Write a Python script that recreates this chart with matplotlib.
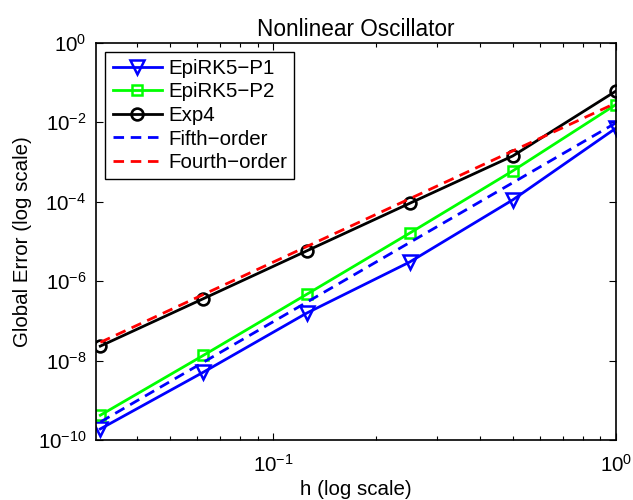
import numpy as np
import matplotlib
matplotlib.use("Agg")
import matplotlib.pyplot as plt
from matplotlib.ticker import LogLocator, FixedLocator, NullFormatter

plt.rcParams['font.family'] = ['Liberation Sans', 'DejaVu Sans']
plt.rcParams['mathtext.fontset'] = 'custom'
plt.rcParams['mathtext.rm'] = 'Liberation Sans'
plt.rcParams['mathtext.it'] = 'Liberation Sans:italic'
plt.rcParams['mathtext.bf'] = 'Liberation Sans:bold'

# Step sizes and global errors
h = [1/32, 1/16, 1/8, 1/4, 1/2, 1]
err_p1 = [1.9e-10, 5.1e-9, 1.55e-7, 3.0e-6, 1.1e-4, 7.0e-3]
err_p2 = [4.2e-10, 1.35e-8, 4.6e-7, 1.6e-5, 5.9e-4, 2.75e-2]
err_exp4 = [2.3e-8, 3.6e-7, 5.7e-6, 9.0e-5, 1.4e-3, 6.0e-2]

# Reference slopes: C * h^p
c_fifth = 9.5e-3
c_fourth = 3.0e-2

series_labels = ['EpiRK5\u2212P1', 'EpiRK5\u2212P2', 'Exp4', 'Fifth\u2212order', 'Fourth\u2212order']
ytick_vals = [1e-10, 1e-8, 1e-6, 1e-4, 1e-2, 1e0]
xtick_vals = [1e-1, 1e0]

h_arr = np.array(h)
fifth = c_fifth * h_arr ** 5
fourth = c_fourth * h_arr ** 4

fig = plt.figure(figsize=(6.33, 5.0), dpi=100)
ax = fig.add_axes([0.152, 0.12, 0.821, 0.795])

fs = 14.8
lw = 2.0
dash = (0, (3.8, 2.4))
ax.plot(h, err_p1, color=(0, 0, 1), lw=lw, marker='v', ms=10, mfc='none', mew=1.8,
        label=series_labels[0])
ax.plot(h, err_p2, color=(0, 1, 0), lw=lw, marker='s', ms=7.5, mfc='none', mew=1.8,
        label=series_labels[1])
ax.plot(h, err_exp4, color='k', lw=lw, marker='o', ms=8.5, mfc='none', mew=1.9,
        label=series_labels[2])
ax.plot(h, fifth, color=(0, 0, 1), lw=lw, ls=dash, label=series_labels[3])
ax.plot(h, fourth, color=(1, 0, 0), lw=lw, ls=dash, label=series_labels[4])

ax.set_xscale('log')
ax.set_yscale('log')
ax.set_xlim(0.0304, 1.0)
ax.set_ylim(1e-10, 1e0)

ax.xaxis.set_major_locator(FixedLocator(xtick_vals))
ax.xaxis.set_minor_locator(LogLocator(base=10, subs=np.arange(2, 10)))
ax.xaxis.set_minor_formatter(NullFormatter())
ax.set_xticklabels([r'$10^{-1}$', r'$10^{0}$'])
ax.yaxis.set_major_locator(FixedLocator(ytick_vals))
ax.yaxis.set_minor_locator(FixedLocator([]))
ax.set_yticklabels([r'$10^{%d}$' % int(round(np.log10(v))) for v in ytick_vals])

ax.tick_params(which='both', direction='in', top=True, right=True, labelsize=fs, width=0.8)
ax.tick_params(axis='x', which='major', length=5, pad=10)
ax.tick_params(axis='y', which='major', length=5, pad=7)
ax.tick_params(which='minor', length=3)
for s in ax.spines.values():
    s.set_linewidth(1.2)

ax.set_title('Nonlinear Oscillator', fontsize=16.3, pad=5)
ax.set_xlabel('h (log scale)', fontsize=fs, labelpad=3)
ax.set_ylabel('Global Error (log scale)', fontsize=fs, labelpad=4)

leg = ax.legend(loc='upper left', fontsize=fs, frameon=True, fancybox=False,
                edgecolor='k', framealpha=1, borderpad=0.35, labelspacing=0.22,
                handlelength=2.4, handletextpad=0.3, borderaxespad=0.45)
leg.get_frame().set_linewidth(1.0)

fig.savefig('out.png', dpi=100)
